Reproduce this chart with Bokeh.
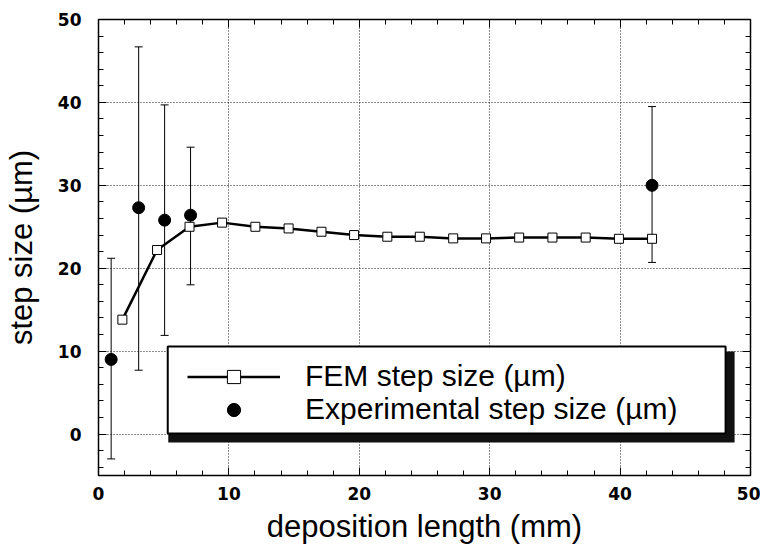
from bokeh.plotting import figure
from bokeh.models import (ColumnDataSource, Whisker, TeeHead, SingleIntervalTicker,
                          LinearAxis, Legend, LegendItem, BoxAnnotation, Range1d)
from bokeh.embed import file_html
from bokeh.resources import INLINE

# ---- data ----
fem_x = [1.83, 4.49, 6.98, 9.48, 12.03, 14.58, 17.1, 19.6, 22.15, 24.64,
         27.2, 29.72, 32.26, 34.81, 37.36, 39.91, 42.45]
fem_y = [13.8, 22.2, 25.0, 25.5, 25.0, 24.8, 24.4, 24.0, 23.8, 23.8,
         23.6, 23.6, 23.7, 23.7, 23.7, 23.55, 23.55]

exp_x = [0.97, 3.08, 5.07, 7.06, 42.45]
exp_y = [9.0, 27.3, 25.8, 26.4, 30.0]
exp_lo = [-3.0, 7.7, 11.9, 18.0, 20.7]
exp_hi = [21.2, 46.7, 39.7, 34.6, 39.5]

x_title = "deposition length (mm)"
y_title = "step size (\u00b5m)"
fem_label = "FEM step size (\u00b5m)"
exp_label = "Experimental step size (\u00b5m)"

# legend frame and its drop shadow (data coordinates)
legend_box = dict(left=5.31, right=48.09, top=10.55, bottom=0.06)
legend_shadow = dict(left=5.35, right=48.78, top=9.95, bottom=-1.03)

TICK_FONT = "DejaVu Sans"
TITLE_FONT = "Liberation Sans"

p = figure(width=760, height=550, output_backend="svg", toolbar_location=None,
           x_range=Range1d(0, 50), y_range=Range1d(-5, 50),
           min_border_left=96, min_border_right=10, min_border_top=19,
           min_border_bottom=75, background_fill_color="white",
           border_fill_color="white")
p.outline_line_color = "black"
p.outline_line_width = 1.5

xt = SingleIntervalTicker(interval=10, num_minor_ticks=5)
yt = SingleIntervalTicker(interval=10, num_minor_ticks=5)


def style_axis(ax, ticker, labels=True):
    ax.ticker = ticker
    ax.axis_line_color = None
    ax.major_tick_in = 8
    ax.major_tick_out = 0
    ax.minor_tick_in = 5
    ax.minor_tick_out = 0
    ax.major_tick_line_color = "black"
    ax.minor_tick_line_color = "black"
    ax.major_tick_line_width = 1
    ax.minor_tick_line_width = 1
    if labels:
        ax.major_label_text_font = TICK_FONT
        ax.major_label_text_font_style = "bold"
        ax.major_label_text_font_size = "17px"
        ax.major_label_text_color = "black"
        ax.axis_label_text_font = TITLE_FONT
        ax.axis_label_text_font_style = "normal"
        ax.axis_label_text_font_size = "31px"
        ax.axis_label_text_color = "black"
    else:
        ax.major_label_text_font_size = "1px"
        ax.major_label_text_color = None
        ax.major_label_standoff = 0


xa = p.xaxis[0]
ya = p.yaxis[0]
style_axis(xa, xt)
style_axis(ya, yt)
xa.axis_label = x_title
ya.axis_label = y_title
xa.major_label_standoff = 11
xa.axis_label_standoff = 6
ya.major_label_standoff = 17
ya.axis_label_standoff = 16

top_ax = LinearAxis()
style_axis(top_ax, xt, labels=False)
p.add_layout(top_ax, "above")
right_ax = LinearAxis()
style_axis(right_ax, yt, labels=False)
p.add_layout(right_ax, "right")

for g, t in ((p.xgrid[0], xt), (p.ygrid[0], yt)):
    g.ticker = t
    g.grid_line_color = "black"
    g.grid_line_dash = "1 2"
    g.grid_line_width = 1
    g.grid_line_alpha = 0.9

# FEM curve
fem_line = p.line(fem_x, fem_y, line_color="black", line_width=2.5)
fem_sq = p.scatter(fem_x, fem_y, marker="square", size=9, fill_color="white",
                   line_color="black", line_width=1)

# experimental points with error bars
src_e = ColumnDataSource(dict(x=exp_x, y=exp_y, lower=exp_lo, upper=exp_hi))
w = Whisker(source=src_e, base="x", lower="lower", upper="upper",
            line_color="black", line_width=1,
            upper_head=TeeHead(size=8, line_color="black", line_width=1),
            lower_head=TeeHead(size=8, line_color="black", line_width=1))
p.add_layout(w)
exp_pts = p.scatter("x", "y", source=src_e, marker="circle", size=12,
                    fill_color="black", line_color="black")

# legend frame with drop shadow
p.add_layout(BoxAnnotation(fill_color="#111111", fill_alpha=1, line_color=None,
                           **legend_shadow))
p.add_layout(BoxAnnotation(fill_color="white", fill_alpha=1, line_color="black",
                           line_width=2, line_alpha=1, **legend_box))

leg_style = dict(glyph_width=93, glyph_height=33, label_standoff=25, label_height=33,
                 padding=0, spacing=0, margin=0, border_line_color=None,
                 background_fill_alpha=0, label_text_font=TITLE_FONT,
                 label_text_font_size="30px", label_text_color="black")
leg1 = Legend(items=[LegendItem(label=fem_label, renderers=[fem_line, fem_sq])],
              location=(89, 82), **leg_style)
leg2 = Legend(items=[LegendItem(label=exp_label, renderers=[exp_pts])],
              location=(89, 49), **leg_style)
p.add_layout(leg1)
p.add_layout(leg2)

open("out.html", "w").write(file_html(p, INLINE))
